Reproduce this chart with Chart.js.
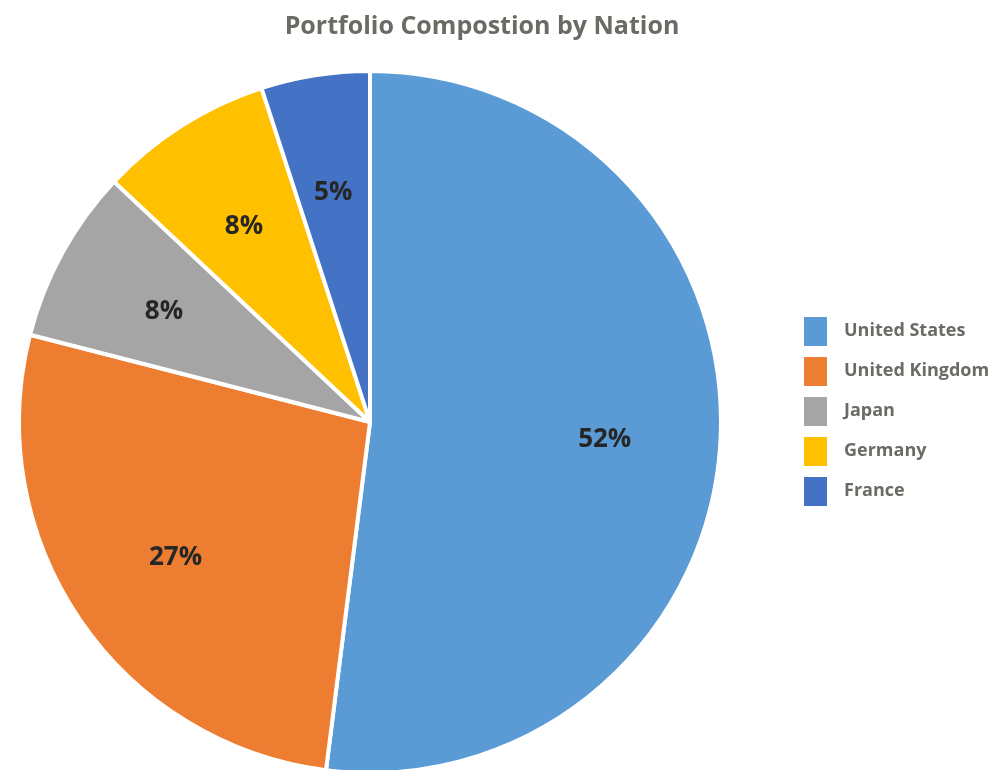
<!DOCTYPE html>
<html>
<head>
<meta charset="utf-8">
<script src="https://cdn.jsdelivr.net/npm/chart.js@4.4.1/dist/chart.umd.min.js"></script>
<style>
  html, body { margin: 0; padding: 0; background: #ffffff; overflow: hidden; }
  #wrap { width: 994px; height: 770px; position: relative; overflow: hidden; }
  #c { position: absolute; left: -34px; top: 0; }
</style>
</head>
<body>
<div id="wrap"><canvas id="c" width="1042" height="770"></canvas></div>
<script>
const categories = ['United States', 'United Kingdom', 'Japan', 'Germany', 'France'];
const shares = [52, 27, 8, 8, 5];
const sliceColors = ['#5B9BD5', '#ED7D31', '#A5A5A5', '#FFC000', '#4472C4'];
const chartTitle = 'Portfolio Compostion by Nation';

const textGray = '#6b6a64';

function swatch(color) {
  const c = document.createElement('canvas');
  c.width = 23; c.height = 29;
  const g = c.getContext('2d');
  g.fillStyle = color;
  g.fillRect(0, 0, 23, 29);
  return c;
}

const sliceLabels = {
  id: 'sliceLabels',
  afterDatasetsDraw(chart) {
    const ctx = chart.ctx;
    const meta = chart.getDatasetMeta(0);
    ctx.save();
    ctx.font = 'bold 26px "Open Sans", sans-serif';
    ctx.fillStyle = '#262626';
    ctx.textAlign = 'center';
    ctx.textBaseline = 'middle';
    meta.data.forEach((arc, i) => {
      const p = arc.getProps(['x', 'y', 'startAngle', 'endAngle', 'outerRadius'], true);
      const mid = (p.startAngle + p.endAngle) / 2;
      const r = p.outerRadius * 0.67;
      ctx.fillText(shares[i] + '%', p.x + Math.cos(mid) * r, p.y + Math.sin(mid) * r + 3);
    });
    ctx.restore();
  }
};

function draw() {
  Chart.defaults.font.family = '"Open Sans", sans-serif';
  new Chart(document.getElementById('c'), {
    type: 'pie',
    data: {
      labels: categories,
      datasets: [{
        data: shares,
        backgroundColor: sliceColors,
        borderColor: '#ffffff',
        borderWidth: 4
      }]
    },
    options: {
      responsive: false,
      animation: false,
      radius: 351,
      layout: { autoPadding: false, padding: { left: 0, right: 10, top: 0, bottom: 0 } },
      plugins: {
        title: {
          display: true,
          text: chartTitle,
          color: textGray,
          font: { size: 25, weight: 'bold' },
          padding: { top: 12, bottom: 32 }
        },
        legend: {
          position: 'right',
          align: 'start',
          maxWidth: 224,
          title: { display: true, text: '', font: { size: 10 }, padding: { top: 288, bottom: 0 } },
          labels: {
            usePointStyle: true,
            pointStyleWidth: 39,
            padding: 22,
            color: textGray,
            font: { size: 18, weight: 'bold' },
            generateLabels: () => categories.map((t, i) => ({
              text: t,
              fillStyle: sliceColors[i],
              strokeStyle: sliceColors[i],
              lineWidth: 0,
              pointStyle: swatch(sliceColors[i]),
              fontColor: textGray,
              hidden: false,
              index: i
            }))
          }
        },
        tooltip: { enabled: false }
      }
    },
    plugins: [sliceLabels]
  });
}

if (document.fonts && document.fonts.load) {
  Promise.all([
    document.fonts.load('bold 18px "Open Sans"'),
    document.fonts.load('bold 26px "Open Sans"')
  ]).then(draw, draw);
} else {
  draw();
}
</script>
</body>
</html>
